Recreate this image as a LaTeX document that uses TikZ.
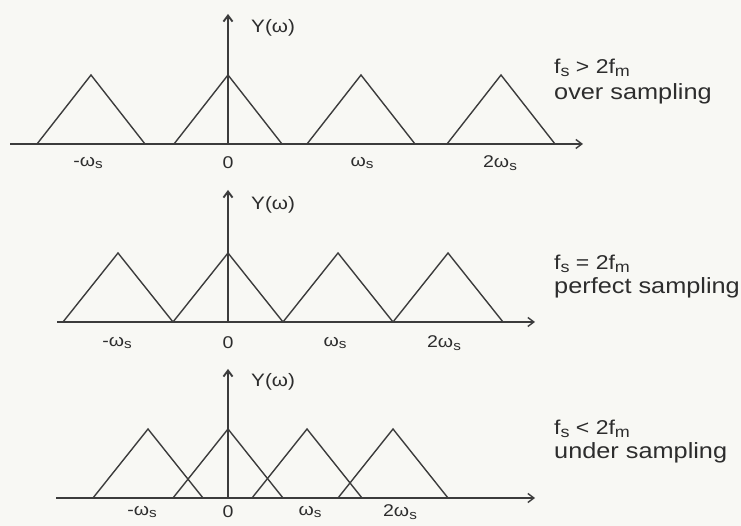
\documentclass[tikz,border=0pt]{standalone}
\usepackage{fontspec}
\setmainfont{Liberation Sans}[FakeStretch=1.15]
\usepackage{tikz, graphicx}
\definecolor{scanink}{RGB}{60, 60, 60}
\definecolor{scantext}{RGB}{45, 45, 45}
\definecolor{scanpaper}{RGB}{248, 248, 244}
\usetikzlibrary{arrows.meta}
\newcommand\idx[1]{\raisebox{-0.3ex}{\scalebox{0.78}{#1}}}

\begin{document}
\begin{tikzpicture}[x=1pt, y=1pt,
			>={Straight Barb[length=6pt, width=9pt]},   %Pfeilspitzen
			spec/.style={scanink, line width=1.4pt, line join=miter},
			achse/.style={scanink, line width=1.4pt, ->},
			yachse/.style={scanink, line width=1.9pt, ->},
			tick/.style={font=\fontsize{17}{19}\selectfont, text=scantext, inner sep=0pt},
			ylab/.style={anchor=west, font=\fontsize{18}{20}\selectfont, text=scantext, inner sep=0pt},
			cond/.style={anchor=west, font=\fontsize{20}{22}\selectfont, text=scantext, inner sep=0pt},
			info/.style={anchor=west, font=\fontsize{22}{24}\selectfont, text=scantext, inner sep=0pt}]
			%Hintergrund
			\fill[scanpaper] (0,0) rectangle (741,526);
			\useasboundingbox (0,0) rectangle (741,526);
			%Oben: Ueberabtastung
			\begin{scope}[shift={(228,382)}]
				\coordinate (l1) at (-218,0); \coordinate (r1) at (355,0);
				\coordinate (o1) at (0,0); \coordinate (t1) at (0,130);
				\draw[achse] (l1) -- (r1);
				\foreach \c in {-137,0,133,273} \draw[spec] (\c-54,0) -- (\c,69) -- (\c+54,0);
				\draw[yachse] (o1) -- (t1);
				\node[ylab] (y1) at (23,116) {Y(ω)};
				\foreach \x/\t [count=\i] in {-140/{-ω\idx{s}}, 0/0, 134/{ω\idx{s}}, 272/{2ω\idx{s}}}
					\node[tick] (k1\i) at (\x,-19) {\t};
				\node[cond] (f1) at (326,76) {f\idx{s} > 2f\idx{m}};
				\node[info] (n1) at (326,50) {over sampling};
			\end{scope}
			%Mitte: perfekte Abtastung
			\begin{scope}[shift={(228,204)}]
				\coordinate (l2) at (-171,0); \coordinate (r2) at (307,0);
				\coordinate (o2) at (0,0); \coordinate (t2) at (0,132);
				\draw[achse] (l2) -- (r2);
				\foreach \c in {-110,0,110,220} \draw[spec] (\c-55,0) -- (\c,69) -- (\c+55,0);
				\draw[yachse] (o2) -- (t2);
				\node[ylab] (y2) at (23,117) {Y(ω)};
				\foreach \x/\t [count=\i] in {-111/{-ω\idx{s}}, 0/0, 107/{ω\idx{s}}, 216/{2ω\idx{s}}}
					\node[tick] (k2\i) at (\x,-21) {\t};
				\node[cond] (f2) at (326,58) {f\idx{s} = 2f\idx{m}};
				\node[info] (n2) at (326,34) {perfect sampling};
			\end{scope}
			%Unten: Unterabtastung
			\begin{scope}[shift={(228,28)}]
				\coordinate (l3) at (-172,0); \coordinate (r3) at (307,0);
				\coordinate (o3) at (0,0); \coordinate (t3) at (0,129);
				\draw[achse] (l3) -- (r3);
				\foreach \c in {-80,0,79,165} \draw[spec] (\c-55,0) -- (\c,69) -- (\c+55,0);
				\draw[yachse] (o3) -- (t3);
				\node[ylab] (y3) at (23,116) {Y(ω)};
				\foreach \x/\t [count=\i] in {-86/{-ω\idx{s}}, 0/0, 82/{ω\idx{s}}, 172/{2ω\idx{s}}}
					\node[tick] (k3\i) at (\x,-14) {\t};
				\node[cond] (f3) at (326,69) {f\idx{s} < 2f\idx{m}};
				\node[info] (n3) at (326,45) {under sampling};
			\end{scope}
		\end{tikzpicture}
\end{document}
